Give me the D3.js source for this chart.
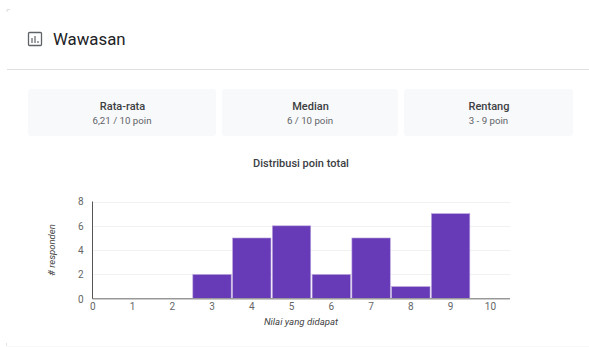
<!DOCTYPE html>
<html>
<head>
<meta charset="utf-8">
<script src="https://cdn.jsdelivr.net/npm/d3@7/dist/d3.min.js"></script>
<style>
html,body{margin:0;padding:0;background:#fff;}
svg{display:block;}
text{font-family:Roboto,"Liberation Sans",sans-serif;}
</style>
</head>
<body>
<svg id="chart" width="589" height="347"></svg>
<script>
const sectionTitle = "Wawasan";
const summaryLabels = ["Rata-rata", "Median", "Rentang"];
const summaryValues = ["6,21 / 10 poin", "6 / 10 poin", "3 - 9 poin"];
const chartTitle = "Distribusi poin total";
const xAxisTitle = "Nilai yang didapat";
const yAxisTitle = "# responden";
const points = [3, 4, 5, 6, 7, 8, 9];
const respondents = [2, 5, 6, 2, 5, 1, 7];
const xTicks = [0, 1, 2, 3, 4, 5, 6, 7, 8, 9, 10];
const yTicks = [0, 2, 4, 6, 8];

const svg = d3.select("#chart");

// Small corner remnants of the page frame
svg.append("path").attr("d", "M7 12V9.5H10").attr("fill", "none").attr("stroke", "#dcdcdc").attr("stroke-width", 1);
svg.append("path").attr("d", "M6.5 343V346").attr("fill", "none").attr("stroke", "#e4e4e4").attr("stroke-width", 1);

// Section header: icon, title and divider
const icon = svg.append("g").attr("fill", "none").attr("stroke", "#5f6368");
icon.append("rect").attr("x", 28.5).attr("y", 32.5).attr("width", 13).attr("height", 13).attr("rx", 1).attr("stroke-width", 1.3);
[[32, 38, 43], [35, 36, 43], [38, 41, 43]].forEach(([x, y1, y2]) => {
  icon.append("line").attr("x1", x).attr("x2", x).attr("y1", y1).attr("y2", y2).attr("stroke-width", 1.2);
});
svg.append("text").attr("x", 53).attr("y", 45).attr("font-size", 16.8).attr("fill", "#202124").text(sectionTitle);
svg.append("line").attr("x1", 7).attr("x2", 589).attr("y1", 69.5).attr("y2", 69.5).attr("stroke", "#e0e0e0");

// Summary cards
const cardBand = [[28, 216], [222, 398], [404, 573]];
const cards = svg.selectAll("g.card").data(summaryLabels).join("g").attr("class", "card");
cards.append("rect")
  .attr("x", (d, i) => cardBand[i][0]).attr("width", (d, i) => cardBand[i][1] - cardBand[i][0])
  .attr("y", 89).attr("height", 47).attr("rx", 3).attr("fill", "#f8f9fa");
cards.append("text")
  .attr("x", (d, i) => (cardBand[i][0] + cardBand[i][1]) / 2 + 0.5).attr("y", 110)
  .attr("text-anchor", "middle").attr("font-size", 11).attr("font-weight", 500).attr("fill", "#3c4043").text(d => d);
cards.append("text")
  .attr("x", (d, i) => (cardBand[i][0] + cardBand[i][1]) / 2).attr("y", 124)
  .attr("text-anchor", "middle").attr("font-size", 9.7).attr("fill", "#5f6368").text((d, i) => summaryValues[i]);

// Chart title
svg.append("text").attr("x", 301).attr("y", 167).attr("text-anchor", "middle")
  .attr("font-size", 11).attr("font-weight", 500).attr("fill", "#3c4043").text(chartTitle);

// Scales
const x = d3.scaleLinear().domain([0, 10]).range([92.5, 490.2]);
const y = d3.scaleLinear().domain([0, 8]).range([298.8, 201.5]);
const plotRight = 510;
const unit = x(1) - x(0);

// Horizontal gridlines
svg.append("g").selectAll("line").data(yTicks.filter(d => d > 0)).join("line")
  .attr("x1", x(0)).attr("x2", plotRight)
  .attr("y1", d => Math.round(y(d)) + 0.5).attr("y2", d => Math.round(y(d)) + 0.5)
  .attr("stroke", "#f1f1f1");

// Histogram bars, one per score with a pale outline
svg.append("g").selectAll("rect").data(points).join("rect")
  .attr("x", d => x(d) - unit / 2 + 0.9)
  .attr("width", unit - 1.4)
  .attr("y", (d, i) => y(respondents[i]))
  .attr("height", (d, i) => y(0) - y(respondents[i]))
  .attr("fill", "#673ab7")
  .attr("stroke", "#b9a3dd").attr("stroke-width", 0.6);

// Baseline and vertical axis
svg.append("line").attr("x1", x(0)).attr("x2", plotRight).attr("y1", 298.8).attr("y2", 298.8)
  .attr("stroke", "#999").attr("stroke-width", 1.4);
svg.append("line").attr("x1", x(0)).attr("x2", x(0)).attr("y1", y(8)).attr("y2", y(0))
  .attr("stroke", "#555").attr("stroke-width", 1);

// Tick labels come from D3 axes with their lines removed
const xAxis = svg.append("g").attr("transform", "translate(-0.3,298)")
  .call(d3.axisBottom(x).tickValues(xTicks).tickSize(0).tickPadding(5));
const yAxis = svg.append("g").attr("transform", `translate(${x(0)},0)`)
  .call(d3.axisLeft(y).tickValues(yTicks).tickSize(0).tickPadding(9));
[xAxis, yAxis].forEach(a => {
  a.select(".domain").remove();
  a.selectAll("text").attr("font-size", 10).attr("font-family", "'Liberation Sans',sans-serif").attr("fill", "#666");
});

// Axis titles
svg.append("text").attr("x", 301).attr("y", 325).attr("text-anchor", "middle")
  .attr("font-size", 9.6).attr("font-style", "italic").attr("font-family", "'Liberation Sans',sans-serif").attr("fill", "#444").text(xAxisTitle);
svg.append("text").attr("transform", "translate(55,250) rotate(-90)").attr("text-anchor", "middle")
  .attr("font-size", 9.6).attr("font-style", "italic").attr("font-family", "'Liberation Sans',sans-serif").attr("fill", "#444").text(yAxisTitle);

// Faint rule along the foot of the section
svg.append("line").attr("x1", 7).attr("x2", 589).attr("y1", 346.5).attr("y2", 346.5).attr("stroke", "#f8f8f8");
</script>
</body>
</html>
